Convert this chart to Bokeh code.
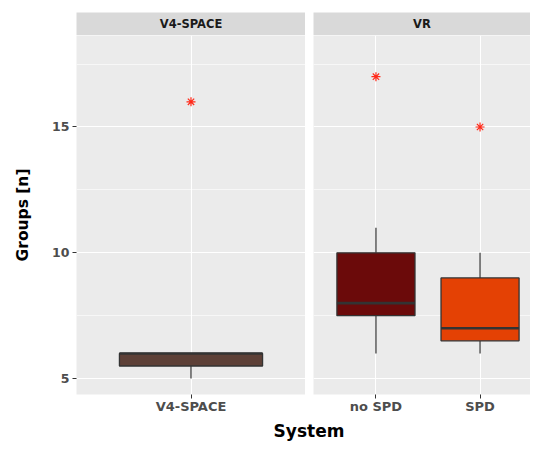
from bokeh.plotting import figure
from bokeh.layouts import row, column
from bokeh.models import Range1d, FixedTicker, ColumnDataSource
from bokeh.core.properties import value
from bokeh.embed import file_html
from bokeh.resources import INLINE

# ---- data ----
facets = ["V4-SPACE", "VR"]
categories = [["V4-SPACE"], ["no SPD", "SPD"]]
q1 = [[5.5], [7.5, 6.5]]
median = [[6.0], [8.0, 7.0]]
q3 = [[6.0], [10.0, 9.0]]
whisker_low = [[5.0], [6.0, 6.0]]
whisker_high = [[6.0], [11.0, 10.0]]
outliers = [[16.0], [17.0, 15.0]]
y_ticks = [5, 10, 15]
y_minor = [7.5, 12.5, 17.5]
y_title = "Groups [n]"
x_title = "System"

palette = [["#5d4037"], ["#6b0a0a", "#e44104"]]

FONT = "DejaVu Sans"
BOX_W = 0.75
y_range = Range1d(4.368, 18.636)

# geometry (pixels)
W_LEFT, W_RIGHT = 305, 225
BORDER_LEFT = [76, 8]
PANEL_PX = 229
STRIP_H = 35
PANEL_H = 381
XT_H = 26


def make_strip(i, width):
    s = figure(width=width, height=STRIP_H, x_range=Range1d(0, 1), y_range=Range1d(0, 1),
               x_axis_location=None, y_axis_location=None, toolbar_location=None,
               output_backend="svg", min_border_left=BORDER_LEFT[i], min_border_right=0,
               min_border_top=12, min_border_bottom=0)
    s.background_fill_color = "#d9d9d9"
    s.border_fill_color = "white"
    s.outline_line_color = None
    s.grid.visible = False
    s.text(x=[0.5], y=[0.5], text=[facets[i]], text_align="center", text_baseline="middle",
           text_font=value(FONT), text_font_style="bold", text_font_size="11.5px",
           text_color="#1a1a1a")
    return s


def make_panel(i, width):
    n = len(categories[i])
    frame_w = width - BORDER_LEFT[i]
    units_per_px = (n + 0.2) / PANEL_PX
    xr = Range1d(0.4, 0.4 + frame_w * units_per_px)
    p = figure(width=width, height=PANEL_H, x_range=xr, y_range=y_range,
               toolbar_location=None, output_backend="svg",
               y_axis_location="left" if i == 0 else None,
               min_border_left=BORDER_LEFT[i], min_border_right=0,
               min_border_top=0, min_border_bottom=20)
    p.background_fill_color = "#ebebeb"
    p.border_fill_color = "white"
    p.outline_line_color = None

    xs = list(range(1, n + 1))
    p.xgrid.ticker = FixedTicker(ticks=xs)
    p.xgrid.grid_line_color = "white"
    p.xgrid.grid_line_width = 1.1
    p.ygrid.ticker = FixedTicker(ticks=y_ticks, minor_ticks=y_minor)
    p.ygrid.grid_line_color = "white"
    p.ygrid.grid_line_width = 1.1
    p.ygrid.minor_grid_line_color = "white"
    p.ygrid.minor_grid_line_width = 0.6

    p.xaxis.ticker = FixedTicker(ticks=xs)
    p.xaxis.major_label_overrides = {x: c for x, c in zip(xs, categories[i])}
    p.xaxis.axis_line_color = None
    p.xaxis.major_tick_line_color = "#333333"
    p.xaxis.major_tick_out = 4
    p.xaxis.major_tick_in = 0
    p.xaxis.minor_tick_line_color = None
    p.xaxis.major_label_standoff = 0
    p.xaxis.major_label_text_font = FONT
    p.xaxis.major_label_text_font_style = "bold"
    p.xaxis.major_label_text_font_size = "13px"
    p.xaxis.major_label_text_color = "#4d4d4d"

    if i == 0:
        p.yaxis.ticker = FixedTicker(ticks=y_ticks)
        p.yaxis.axis_line_color = None
        p.yaxis.major_tick_line_color = "#333333"
        p.yaxis.major_tick_out = 4
        p.yaxis.major_tick_in = 0
        p.yaxis.minor_tick_line_color = None
        p.yaxis.major_label_standoff = 3
        p.yaxis.major_label_text_font = FONT
        p.yaxis.major_label_text_font_style = "bold"
        p.yaxis.major_label_text_font_size = "12.5px"
        p.yaxis.major_label_text_color = "#4d4d4d"
        p.yaxis.axis_label = y_title
        p.yaxis.axis_label_text_font = FONT
        p.yaxis.axis_label_text_font_style = "bold"
        p.yaxis.axis_label_text_font_size = "15.5px"
        p.yaxis.axis_label_text_color = "black"
        p.yaxis.axis_label_standoff = 17

    src = ColumnDataSource(dict(
        x=xs,
        x0=[x - BOX_W / 2 for x in xs],
        x1=[x + BOX_W / 2 for x in xs],
        q1=q1[i], med=median[i], q3=q3[i],
        lo=whisker_low[i], hi=whisker_high[i],
        color=palette[i],
    ))
    p.segment(x0="x", y0="lo", x1="x", y1="q1", source=src, line_color="#333333", line_width=1.2)
    p.segment(x0="x", y0="q3", x1="x", y1="hi", source=src, line_color="#333333", line_width=1.2)
    p.vbar(x="x", width=BOX_W, bottom="q1", top="q3", source=src, fill_color="color",
           line_color="#333333", line_width=1.3)
    p.segment(x0="x0", y0="med", x1="x1", y1="med", source=src, line_color="#333333", line_width=2.6)
    p.scatter(x=xs, y=outliers[i], marker="asterisk", size=9, line_color="#ff2a1a", line_width=1.2)
    return p


s1 = make_strip(0, W_LEFT)
s2 = make_strip(1, W_RIGHT)
p1 = make_panel(0, W_LEFT)
p2 = make_panel(1, W_RIGHT)

total_w = W_LEFT + W_RIGHT
p3 = figure(width=total_w, height=XT_H, x_range=Range1d(0, total_w), y_range=Range1d(0, XT_H),
            x_axis_location=None, y_axis_location=None, toolbar_location=None,
            output_backend="svg", min_border=0)
p3.min_border_left = 0
p3.min_border_right = 0
p3.min_border_top = 0
p3.min_border_bottom = 0
p3.outline_line_color = None
p3.grid.visible = False
p3.background_fill_color = "white"
p3.text(x=[308.5], y=[12], text=[x_title], text_align="center", text_baseline="alphabetic",
        text_font=value(FONT), text_font_style="bold", text_font_size="17px", text_color="black")

layout = column(row(column(s1, p1, spacing=0), column(s2, p2, spacing=0), spacing=0), p3, spacing=0)

open("out.html", "w").write(file_html(layout, INLINE))
